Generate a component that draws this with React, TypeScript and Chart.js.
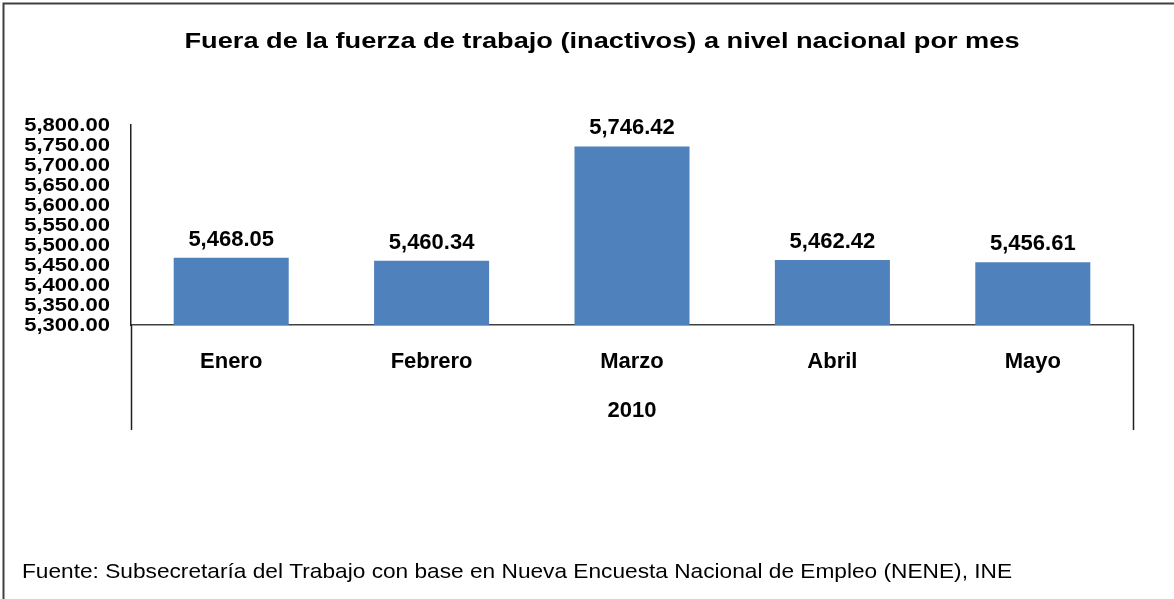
import React, { useEffect, useRef } from "react";
import { Chart, registerables } from "chart.js";

Chart.register(...registerables);

const categories = ["Enero", "Febrero", "Marzo", "Abril", "Mayo"];
const values = [5468.05, 5460.34, 5746.42, 5462.42, 5456.61];
const groupLabel = "2010";
const yMin = 5300;
const yMax = 5800;
const yStep = 50;
const title = "Fuera de la fuerza de trabajo (inactivos) a nivel nacional por mes";
const footer = "Fuente: Subsecretaría del Trabajo con base en Nueva Encuesta Nacional de Empleo (NENE), INE";

const FONT = '"Liberation Sans", Arial, sans-serif';
const fmt = (v: number) =>
  v.toLocaleString("en-US", { minimumFractionDigits: 2, maximumFractionDigits: 2 });

const W = 1174;
const H = 599;

function stretchedText(
  ctx: CanvasRenderingContext2D,
  text: string,
  x: number,
  y: number,
  sx: number
) {
  ctx.save();
  ctx.translate(x, y);
  ctx.scale(sx, 1);
  ctx.fillText(text, 0, 0);
  ctx.restore();
}

const overlay = {
  id: "overlay",
  afterDraw(chart: any) {
    const ctx = chart.ctx as CanvasRenderingContext2D;
    const area = chart.chartArea;
    const ys = chart.scales.y;
    ctx.save();
    // frame
    ctx.strokeStyle = "#404040";
    ctx.lineWidth = 2;
    ctx.beginPath();
    ctx.moveTo(3.5, H);
    ctx.lineTo(3.5, 3.5);
    ctx.lineTo(W, 3.5);
    ctx.stroke();

    // title
    ctx.fillStyle = "#000";
    ctx.font = `bold 22px ${FONT}`;
    ctx.textAlign = "center";
    ctx.textBaseline = "middle";
    stretchedText(ctx, title, 602, 42, 1.235);

    // footer
    ctx.font = `21px ${FONT}`;
    ctx.textAlign = "left";
    stretchedText(ctx, footer, 22, 572, 1.08);

    // y tick labels (horizontally stretched like the original)
    ctx.font = `bold 19px ${FONT}`;
    ctx.textAlign = "right";
    ctx.textBaseline = "middle";
    ys.ticks.forEach((t: any) => {
      const y = ys.getPixelForValue(t.value);
      stretchedText(ctx, fmt(t.value), 110, y + 1, 1.16);
    });

    // data labels
    ctx.font = `bold 22px ${FONT}`;
    ctx.textAlign = "center";
    ctx.textBaseline = "middle";
    const meta = chart.getDatasetMeta(0);
    meta.data.forEach((el: any, i: number) => {
      ctx.fillText(fmt(values[i]), el.x, el.y - 18);
    });

    // group label and category box lines
    ctx.strokeStyle = "#202020";
    ctx.lineWidth = 1.5;
    ctx.beginPath();
    ctx.moveTo(Math.round(area.left) + 0.5, area.bottom);
    ctx.lineTo(Math.round(area.left) + 0.5, 430);
    ctx.moveTo(Math.round(area.right) + 0.5, area.bottom);
    ctx.lineTo(Math.round(area.right) + 0.5, 430);
    ctx.stroke();

    ctx.font = `bold 22px ${FONT}`;
    ctx.fillText(groupLabel, (area.left + area.right) / 2, 411);
    ctx.restore();
  },
};

export default function App() {
  const ref = useRef<HTMLCanvasElement | null>(null);
  useEffect(() => {
    document.body.style.margin = "0";
    const canvas = ref.current!;
    const chart = new Chart(canvas, {
      type: "bar",
      data: {
        labels: categories,
        datasets: [
          {
            data: values,
            backgroundColor: "#4F81BD",
            borderWidth: 0,
            barPercentage: 0.574,
            categoryPercentage: 1,
          },
        ],
      },
      options: {
        responsive: false,
        animation: false,
        devicePixelRatio: 1,
        layout: { padding: { top: 125, right: 41, bottom: 169, left: 0 } },
        plugins: { legend: { display: false }, title: { display: false }, tooltip: { enabled: false } },
        scales: {
          x: {
            grid: { display: false, drawTicks: false },
            border: { display: true, color: "#404040", width: 1.5 },
            ticks: {
              color: "#000",
              font: { family: FONT, size: 22, weight: "bold" },
              padding: 24,
              maxRotation: 0,
              autoSkip: false,
            },
            afterFit: (s: any) => {
              s.height = 105;
            },
          },
          y: {
            min: yMin,
            max: yMax,
            grid: { display: false, drawTicks: false },
            border: { display: true, color: "#202020", width: 1.5 },
            ticks: { display: false, stepSize: yStep, autoSkip: false },
            afterFit: (s: any) => {
              s.width = 131;
            },
          },
        },
      },
      plugins: [overlay],
    });
    return () => chart.destroy();
  }, []);
  return (
    <div style={{ position: "absolute", left: 0, top: 0, width: W, height: H, background: "#fff" }}>
      <canvas ref={ref} width={W} height={H} />
    </div>
  );
}
